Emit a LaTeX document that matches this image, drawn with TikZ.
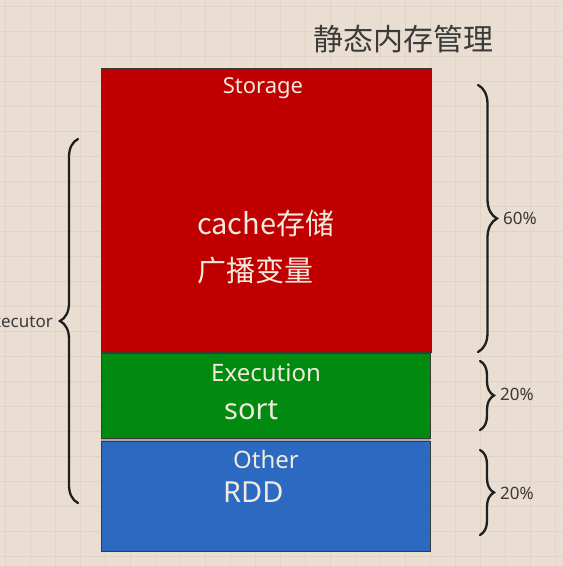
\documentclass[tikz,border=0pt]{standalone}
\usepackage{fontspec}
\setmainfont{Noto Sans}
\newfontfamily\cjk{Noto Sans CJK SC}
\usetikzlibrary{calc}
\usetikzlibrary{positioning}
\usetikzlibrary{decorations.pathreplacing}

\definecolor{paper}{HTML}{E9DED1}
\definecolor{gridline}{HTML}{E1D4C6}
\definecolor{storred}{HTML}{C00000}
\definecolor{execgreen}{HTML}{008A0F}
\definecolor{otherblue}{HTML}{2B6AC0}
\definecolor{cream}{HTML}{F3E9DD}
\definecolor{ink}{HTML}{3A3A3A}

\tikzset{
  part/.style={draw=ink, line width=0.9pt, inner sep=0pt, minimum width=329pt},
  lbl/.style={text=cream, inner sep=0pt},
  pct/.style={text=ink, inner sep=0pt, font=\fontsize{17}{17}\selectfont},
  curly/.style={decorate, decoration={brace, amplitude=#1}, draw=black!88, line width=2.3pt, line cap=round}
}

\begin{document}
\begin{tikzpicture}[x=1pt,y=-1pt]
\useasboundingbox[fill=paper] (0,0) rectangle (563,566);
% grid on the paper
\foreach \gx in {5,30,...,555} {
 \draw[gridline, line width=1pt] (\gx,0) --++(0,566);
}
\foreach \gy in {6.7,31.7,...,566} {
 \draw[gridline, line width=1pt] (0,\gy) --++(563,0);
}
\node[text=ink, inner sep=0pt, anchor=base, font=\cjk\fontsize{30}{30}\selectfont] (title) at (403,50) {静态内存管理};

% the three parts
\fill[gray!70] (101,437) rectangle (430,442);
\node[part, fill=storred, minimum height=284pt, minimum width=330pt] (storage) at (266,210) {};
\node[part, fill=execgreen, minimum height=85pt] (execution) at (265.5,395.5) {};
\node[part, fill=otherblue, minimum height=110pt] (other) at (265.5,496) {};

\node[lbl, anchor=base, font=\fontsize{22}{22}\selectfont] (storlbl) at (263,93) {Storage};
\node[lbl, anchor=base west, font=\cjk\fontsize{29}{29}\selectfont] (cache) at (197,234) {cache存储};
\node[lbl, anchor=base west, font=\cjk\fontsize{29}{29}\selectfont] (bcast) at (197,281) {广播变量};
\node[lbl, anchor=base, font=\fontsize{24}{24}\selectfont] (execlbl) at (266,381) {Execution};
\node[lbl, anchor=base west, font=\fontsize{29}{29}\selectfont] (sortlbl) at (224,419) {sort};
\node[lbl, anchor=base, font=\fontsize{24}{24}\selectfont] (otherlbl) at (266,468) {Other};
\node[lbl, anchor=base west, font=\fontsize{29}{29}\selectfont] (rddlbl) at (223,502) {RDD};

% braces
\coordinate (s1) at (478,85);
\coordinate (s2) at (478,352);
\coordinate (e1) at (480,361);
\coordinate (e2) at (480,430);
\coordinate (o1) at (480,450);
\coordinate (o2) at (480,535);
\coordinate (x1) at (78,139);
\coordinate (x2) at (78,503);
\draw[curly=19pt] (s1) -- (s2);
\draw[curly=14pt] (e1) -- (e2);
\draw[curly=14pt] (o1) -- (o2);
\draw[curly=18pt] (x2) -- (x1);

\node[pct, anchor=west] (p60) at (503,218) {60\%};
\node[pct, anchor=west] (p20a) at (500,394) {20\%};
\node[pct, anchor=west] (p20b) at (500,493) {20\%};
\node[pct, anchor=east] (exec) at (53,322) {Executor};
\end{tikzpicture}
\end{document}
